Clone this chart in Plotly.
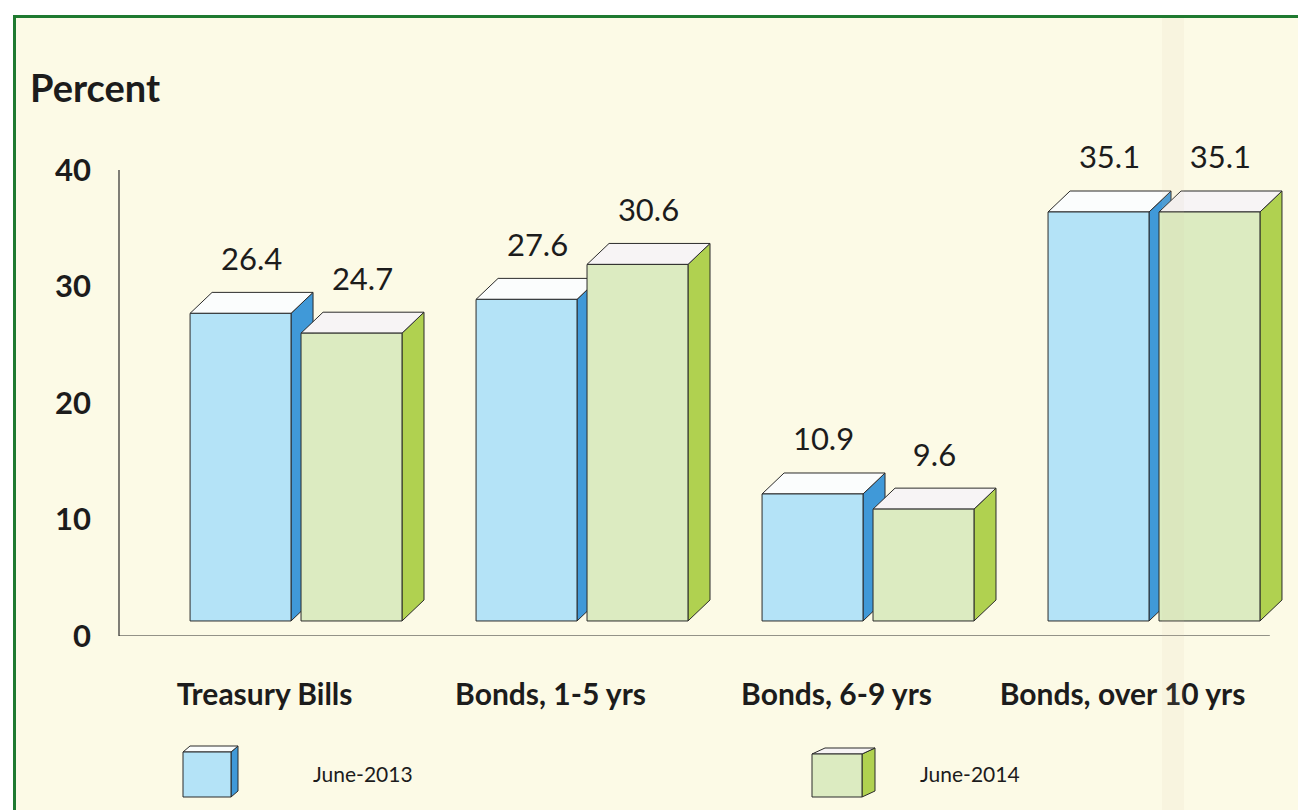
import plotly.graph_objects as go

# ---- data ----
categories = ["Treasury Bills", "Bonds, 1-5 yrs", "Bonds, 6-9 yrs", "Bonds, over 10 yrs"]
series_names = ["June-2013", "June-2014"]
june_2013 = [26.4, 27.6, 10.9, 35.1]
june_2014 = [24.7, 30.6, 9.6, 35.1]
y_ticks = [0, 10, 20, 30, 40]

# ---- style ----
OFF = 8                      # page body margin
W, H = 1306 - OFF, 810 - OFF
L, R, T, B = 119 - OFF, 6, 100 - OFF, 174
FONT = "Lato"
TXT = "#1c1c1c"
EDGE = "#2b2b2b"
front_col = ["#b4e3f7", "#dcebc1"]
side_col = ["#4099d8", "#b0d150"]
top_col = ["#fbfdfd", "#f7f4f5"]
bar_w = 0.353
offs = [-0.194, 0.194]
dx, dy = 0.077, 1.8       # 3-D depth in axis units
base = 1.29               # front face floor above axis
label_gap = 2.6
X_MIN, X_MAX = -0.619, 3.5105
X_AXIS_END = 3.405

fig = go.Figure()

def poly(xs, ys, color):
    fig.add_trace(go.Scatter(
        x=xs + [xs[0]], y=ys + [ys[0]], mode="lines", fill="toself",
        fillcolor=color, line=dict(color=EDGE, width=1),
        hoverinfo="skip", showlegend=False))

label_x, label_y, label_t = [], [], []
for i, cat in enumerate(categories):
    for s, vals in enumerate([june_2013, june_2014]):
        v = vals[i]
        xc = i + offs[s]
        xl, xr = xc - bar_w / 2, xc + bar_w / 2
        y0, y1 = base, base + v
        poly([xr, xr + dx, xr + dx, xr], [y0, y0 + dy, y1 + dy, y1], side_col[s])
        poly([xl, xr, xr + dx, xl + dx], [y1, y1, y1 + dy, y1 + dy], top_col[s])
        poly([xl, xr, xr, xl], [y0, y0, y1, y1], front_col[s])
        label_x.append(xc + dx / 2)
        label_y.append(y1 + dy + label_gap)
        label_t.append(f"{v:.1f}")

fig.add_trace(go.Scatter(
    x=label_x, y=label_y, text=label_t, mode="text",
    textfont=dict(family=FONT, size=31, color=TXT),
    hoverinfo="skip", showlegend=False, cliponaxis=False))

# reference-pixel -> paper coordinates
def px(x):
    return (x - OFF - L) / (W - L - R)

def py(y):
    return (H - B - (y - OFF)) / (H - T - B)

shapes = [
    dict(type="rect", xref="paper", yref="paper",
         x0=px(14.5), x1=px(1340), y0=py(16.5), y1=py(850),
         fillcolor="#fcfae6", line=dict(color="#1f7a30", width=3), layer="below"),
    # axis lines
    dict(type="line", xref="paper", yref="y", x0=0, x1=0, y0=0, y1=40,
         line=dict(color=EDGE, width=1.2)),
    dict(type="line", xref="x", yref="y", x0=X_MIN, x1=X_AXIS_END, y0=0, y1=0,
         line=dict(color=EDGE, width=1.2)),
    # faint fold of the scanned page
    dict(type="rect", xref="paper", yref="paper",
         x0=px(1162), x1=px(1184), y0=py(18), y1=py(850),
         fillcolor="rgba(215,195,165,0.10)", line=dict(width=0), layer="above"),
]

def cube(x0, x1, yt, yb, ddx, ddy, s):
    f = f"M{px(x0)},{py(yb)} L{px(x1)},{py(yb)} L{px(x1)},{py(yt)} L{px(x0)},{py(yt)} Z"
    sd = f"M{px(x1)},{py(yb)} L{px(x1+ddx)},{py(yb-ddy)} L{px(x1+ddx)},{py(yt-ddy)} L{px(x1)},{py(yt)} Z"
    tp = f"M{px(x0)},{py(yt)} L{px(x1)},{py(yt)} L{px(x1+ddx)},{py(yt-ddy)} L{px(x0+ddx)},{py(yt-ddy)} Z"
    out = []
    for path, col in [(sd, side_col[s]), (tp, top_col[s]), (f, front_col[s])]:
        out.append(dict(type="path", xref="paper", yref="paper", path=path,
                        fillcolor=col, line=dict(color=EDGE, width=1)))
    return out

shapes += cube(183, 231, 752, 797, 7, 6, 0)
shapes += cube(812, 862, 754, 797, 13, 6, 1)

annotations = [
    dict(text="<b>Percent</b>", xref="paper", yref="paper", x=px(28), y=py(87),
         xanchor="left", yanchor="middle", showarrow=False,
         font=dict(family=FONT, size=38, color=TXT)),
    dict(text=series_names[0], xref="paper", yref="paper", x=px(363), y=py(773),
         xanchor="center", yanchor="middle", showarrow=False,
         font=dict(family=FONT, size=21, color=TXT)),
    dict(text=series_names[1], xref="paper", yref="paper", x=px(970), y=py(773),
         xanchor="center", yanchor="middle", showarrow=False,
         font=dict(family=FONT, size=21, color=TXT)),
]

fig.update_layout(
    width=W, height=H,
    margin=dict(l=L, r=R, t=T, b=B, pad=0),
    paper_bgcolor="white", plot_bgcolor="rgba(0,0,0,0)",
    shapes=shapes, annotations=annotations,
    xaxis=dict(range=[X_MIN, X_MAX], showgrid=False, zeroline=False,
               showline=False,
               tickmode="array", tickvals=[i - 0.11 for i in range(len(categories))],
               ticktext=[f"<b>{c}</b>" for c in categories], ticks="",
               ticklabelstandoff=38,
               tickfont=dict(family=FONT, size=30, color=TXT), fixedrange=True),
    yaxis=dict(range=[0, 46], showgrid=False, zeroline=False, showline=False,
               tickmode="array", tickvals=y_ticks,
               ticktext=[f"<b>{t}</b>" for t in y_ticks], ticks="",
               ticklabelstandoff=27,
               tickfont=dict(family=FONT, size=31, color=TXT), fixedrange=True),
)

fig.write_html("out.html")
